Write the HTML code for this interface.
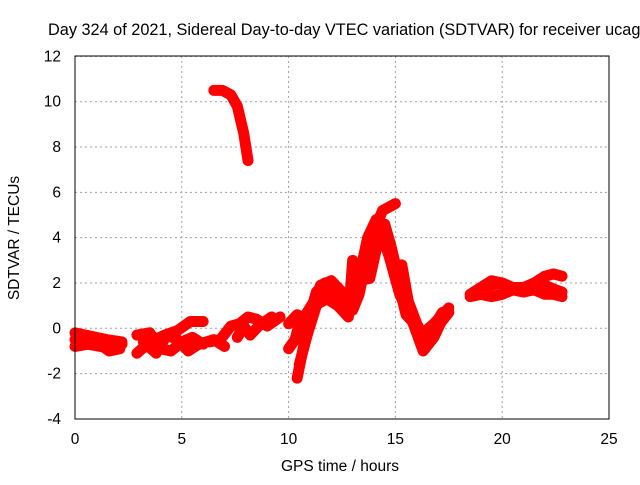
<!DOCTYPE html>
<html><head><meta charset="utf-8"><style>
body{margin:0;background:#fff}
svg text{font-family:"Liberation Sans",sans-serif;font-size:15.5px;fill:#000}
</style></head><body>
<svg id="c" width="640" height="480">
<rect width="640" height="480" fill="#fff"/>
<text x="48" y="35" style="font-size:16.3px">Day 324 of 2021, Sidereal Day-to-day VTEC variation (SDTVAR) for receiver ucag</text>
<text x="340" y="471" text-anchor="middle">GPS time / hours</text>
<text transform="translate(19,238) rotate(-90)" text-anchor="middle">SDTVAR / TECUs</text>
<g id="grid"></g><g id="ticks"></g><g id="data"></g>
<rect x="75" y="56" width="534" height="363" fill="none" stroke="#000" stroke-width="1"/>
</svg>
<script>
const xTicks=[0,5,10,15,20,25];
const yTicks=[-4,-2,0,2,4,6,8,10,12];
const track1=[[0,-0.2],[0.5,-0.3],[1,-0.4],[1.5,-0.5],[2.2,-0.6]];
const track2=[[0,-0.8],[0.6,-0.7],[1.2,-0.8],[1.8,-0.9],[2.2,-0.7]];
const track3=[[0,-0.5],[1,-0.6],[1.6,-1.0],[2.1,-0.9]];
const track4=[[2.9,-1.1],[3.5,-0.6],[4.2,-0.3],[4.8,-0.1],[5.4,0.3],[6,0.3]];
const track5=[[2.9,-0.3],[3.5,-0.2],[4,-0.9],[4.5,-1.0],[5,-0.6],[5.5,-0.4],[6,-0.7]];
const track6=[[3.2,-0.6],[3.8,-1.1],[4.3,-0.3],[4.8,-0.5],[5.3,-1.0],[5.8,-0.7],[6.5,-0.5],[7,-0.8]];
const track7=[[6.3,-0.6],[6.8,-0.5],[7.3,0.1],[7.7,0.2],[8.1,0.5],[8.5,0.4],[9,0.1],[9.6,0.5]];
const track8=[[7.6,-0.4],[7.9,0.1],[8.2,-0.3],[8.6,0.1],[9.2,0.5]];
const track9=[[6.5,10.5],[6.9,10.5],[7.3,10.3],[7.6,9.8],[7.9,8.6],[8.1,7.4]];
const track10=[[10,-0.9],[10.3,-0.5],[10.5,0.2],[10.8,0.6],[11.2,1.2],[11.5,1.9],[12,2.1],[12.5,1.6],[13,0.8],[13.3,1.5],[13.7,3.3],[14,4.3],[14.4,5.2],[15,5.5]];
const track11=[[10.4,-2.2],[10.7,-0.8],[11,0.6],[11.3,1.6],[11.7,2.0],[12.2,1.3],[12.7,0.6],[13.2,1.8],[13.7,4.0],[14.1,4.8],[14.5,4.0],[15,2.5],[15.5,0.6],[16,0.1],[16.3,-0.2],[16.8,0.2],[17.5,0.9]];
const track12=[[10,0.2],[10.4,0.6],[10.8,0.4],[11.2,1.0],[11.8,1.3],[12.3,1.0],[12.8,0.5],[13,3.0],[13.2,2.1],[13.8,2.2],[14.3,4.3],[14.7,3.2],[15.2,1.5],[15.8,0.3],[16.3,-1.0],[16.8,-0.4],[17.3,0.6]];
const track13=[[18.5,1.5],[19,1.8],[19.5,2.1],[20,2.0],[20.5,1.8],[21,1.8],[21.5,2.0],[22,2.3],[22.4,2.4],[22.8,2.3]];
const track14=[[18.5,1.4],[19,1.5],[19.5,1.4],[20,1.5],[20.5,1.7],[21,1.6],[21.5,1.7],[22,1.5],[22.4,1.5],[22.8,1.4]];
const track15=[[19,1.6],[19.5,1.9],[20,2.0],[20.5,1.7],[21,1.6],[21.5,1.8],[22,1.9],[22.5,1.7],[22.8,1.6]];
const track16=[[10.5,-1.6],[10.9,-0.2],[11.3,1.0],[11.6,1.6],[12,1.8],[12.6,1.2],[13,1.0],[13.5,2.8],[14,4.1],[14.5,4.6],[14.8,3.6],[15.3,1.6],[15.7,0.5],[16.2,-0.6],[16.6,-0.2],[17.2,0.7]];
const track17=[[15.3,2.8],[15.6,1.2],[16,0.2],[16.5,-0.7],[17,0.1],[17.5,0.7]];
const tracks=[track1,track2,track3,track4,track5,track6,track7,track8,track9,track10,track11,track12,track13,track14,track15,track16,track17];
const X=t=>75+t*(534/25);
const Y=v=>328.3-v*22.66;
const NS='http://www.w3.org/2000/svg';
const g=document.getElementById('grid'),tk=document.getElementById('ticks'),d=document.getElementById('data');
function mk(tag,a,p){const e=document.createElementNS(NS,tag);for(const k in a)e.setAttribute(k,a[k]);p.appendChild(e);return e;}
xTicks.forEach(t=>{
 const l=mk('line',{x1:X(t),x2:X(t),y1:56,y2:419,stroke:'#a0a0a0','stroke-dasharray':'2,3'},g);
 
 
 const s=mk('text',{x:X(t),y:444,'text-anchor':'middle'},tk);s.textContent=t;
 
 
});
yTicks.forEach(v=>{
 const l=mk('line',{x1:75,x2:609,y1:Y(v),y2:Y(v),stroke:'#a0a0a0','stroke-dasharray':'2,3'},g);
 
 
 const s=mk('text',{x:61,y:Y(v)+5,'text-anchor':'end'},tk);s.textContent=v;
 
 
});
tracks.forEach(tr=>{
 const pl=mk('polyline',{points:tr.map(p=>X(p[0])+','+Y(p[1])).join(' '),fill:'none',stroke:'#ff0000','stroke-width':11,'stroke-linejoin':'round','stroke-linecap':'round'},d);
 
 
 tr.forEach(p=>{
  const m=mk('path',{d:`M${X(p[0])-4},${Y(p[1])}h8M${X(p[0])},${Y(p[1])-4}v8`,stroke:'#ff0000','stroke-width':1.5},d);
  
  
 });
});
</script>
</body></html>
